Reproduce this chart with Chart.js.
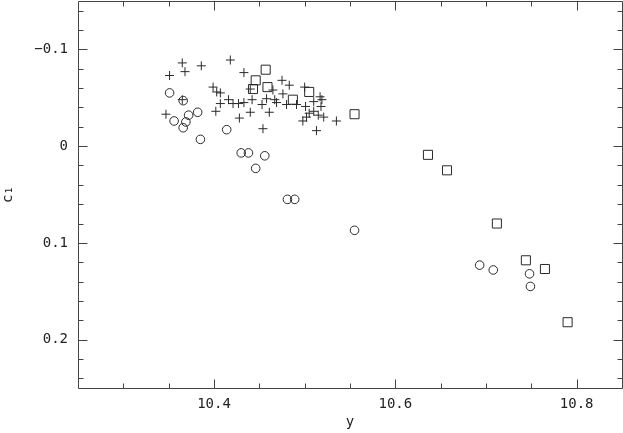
<!DOCTYPE html>
<html>
<head>
<meta charset="utf-8">
<script src="https://cdn.jsdelivr.net/npm/chart.js@4/dist/chart.umd.min.js"></script>
<style>
  html, body { margin: 0; padding: 0; background: #fff; }
  canvas { display: block; }
</style>
</head>
<body>
<canvas id="c1Chart" width="623" height="433"></canvas>
<script>
// crosses
var plusY = [10.365, 10.368, 10.351, 10.386, 10.418, 10.433, 10.399, 10.403, 10.407, 10.365,
             10.407, 10.416, 10.421, 10.427, 10.433, 10.442, 10.440, 10.402, 10.428, 10.440,
             10.347, 10.454, 10.453, 10.458, 10.465, 10.467, 10.469, 10.461, 10.475, 10.483,
             10.476, 10.480, 10.491, 10.500, 10.501, 10.510, 10.517, 10.519, 10.518, 10.505,
             10.510, 10.502, 10.498, 10.515, 10.521, 10.513, 10.535];
var plusC1 = [-0.086, -0.077, -0.073, -0.083, -0.089, -0.076, -0.061, -0.056, -0.055, -0.048,
              -0.044, -0.048, -0.044, -0.044, -0.045, -0.048, -0.059, -0.036, -0.029, -0.035,
              -0.033, -0.018, -0.043, -0.049, -0.058, -0.048, -0.045, -0.035, -0.068, -0.063,
              -0.054, -0.043, -0.043, -0.061, -0.041, -0.046, -0.051, -0.048, -0.041, -0.034,
              -0.036, -0.030, -0.026, -0.032, -0.030, -0.016, -0.026];

// circles
var circY = [10.351, 10.366, 10.372, 10.356, 10.369, 10.366, 10.382, 10.414, 10.385, 10.430,
             10.438, 10.456, 10.446, 10.481, 10.489, 10.555, 10.693, 10.708, 10.748, 10.749];
var circC1 = [-0.055, -0.047, -0.032, -0.026, -0.025, -0.019, -0.035, -0.017, -0.007, 0.007,
              0.007, 0.010, 0.023, 0.055, 0.055, 0.087, 0.123, 0.128, 0.132, 0.145];

// squares
var sqY = [10.457, 10.446, 10.459, 10.443, 10.487, 10.505, 10.555, 10.636, 10.657, 10.712,
           10.744, 10.765, 10.790];
var sqC1 = [-0.079, -0.068, -0.061, -0.059, -0.048, -0.056, -0.033, 0.009, 0.025, 0.080,
            0.118, 0.127, 0.182];

var xTicks = [10.4, 10.6, 10.8];
var xTickLabels = ['10.4', '10.6', '10.8'];
var c1Ticks = [-0.1, 0, 0.1, 0.2];
var c1TickLabels = ['\u22120.1', '0', '0.1', '0.2'];

function toPoints(xs, ys) {
    return xs.map(function (x, i) { return { x: x, y: ys[i] }; });
}

function isMajor(list, v) {
    return list.some(function (m) { return Math.abs(m - v) < 1e-6; });
}

// box round the plot with inward ticks on all four sides
var frameTicks = {
    id: 'frameTicks',
    afterDatasetsDraw: function (chart) {
        var ctx = chart.ctx, a = chart.chartArea;
        var xs = chart.scales.x, ys = chart.scales.y;
        var l = a.left + 0.5, r = a.right + 0.5, t = a.top + 0.5, b = a.bottom + 0.5;
        ctx.save();
        ctx.strokeStyle = '#444';
        ctx.lineWidth = 1;
        ctx.beginPath();
        ctx.rect(l, t, r - l, b - t);
        for (var i = 1; i < 12; i++) {
            var v = 10.25 + i * 0.05;
            var px = Math.round(xs.getPixelForValue(v)) + 0.5;
            var len = isMajor(xTicks, v) ? 9 : 5;
            ctx.moveTo(px, b); ctx.lineTo(px, b - len);
            ctx.moveTo(px, t); ctx.lineTo(px, t + len);
        }
        for (var j = 0; j < 20; j++) {
            var w = -0.14 + j * 0.02;
            var py = Math.round(ys.getPixelForValue(w)) + 0.5;
            var len2 = isMajor(c1Ticks, w) ? 9 : 5;
            ctx.moveTo(l, py); ctx.lineTo(l + len2, py);
            ctx.moveTo(r, py); ctx.lineTo(r - len2, py);
        }
        ctx.stroke();
        ctx.restore();
    }
};

var tickFont = { family: 'DejaVu Sans Mono', size: 14 };
var markColor = '#2a2a2a';

var ctxC = document.getElementById('c1Chart').getContext('2d');
var c1Chart = new Chart(ctxC, {
    type: 'scatter',
    data: {
        datasets: [{
            data: toPoints(plusY, plusC1),
            pointStyle: 'cross',
            pointRadius: 4.5,
            borderColor: markColor,
            backgroundColor: 'rgba(0,0,0,0)',
            borderWidth: 1
        }, {
            data: toPoints(circY, circC1),
            pointStyle: 'circle',
            pointRadius: 4.3,
            borderColor: markColor,
            backgroundColor: 'rgba(0,0,0,0)',
            borderWidth: 1
        }, {
            data: toPoints(sqY, sqC1),
            pointStyle: 'rect',
            pointRadius: 6.4,
            borderColor: markColor,
            backgroundColor: 'rgba(0,0,0,0)',
            borderWidth: 1
        }]
    },
    options: {
        responsive: false,
        animation: false,
        events: [],
        layout: { padding: { top: 1, right: 1, left: 0, bottom: 0 }, autoPadding: false },
        plugins: { legend: { display: false }, tooltip: { enabled: false } },
        scales: {
            x: {
                type: 'linear',
                min: 10.25,
                max: 10.85,
                grid: { display: false, drawTicks: false },
                border: { display: false },
                afterBuildTicks: function (s) { s.ticks = xTicks.map(function (v) { return { value: v }; }); },
                afterFit: function (s) { s.height = 45; s.paddingLeft = 0; s.paddingRight = 0; },
                ticks: {
                    padding: 8,
                    color: '#222',
                    font: tickFont,
                    maxRotation: 0,
                    callback: function (v) { return xTickLabels[xTicks.indexOf(v)]; }
                },
                title: {
                    display: true,
                    text: 'y',
                    color: '#222',
                    font: { family: 'DejaVu Sans Mono', size: 14 },
                    padding: { top: 0, bottom: 2 }
                }
            },
            y: {
                type: 'linear',
                reverse: true,
                min: -0.15,
                max: 0.25,
                grid: { display: false, drawTicks: false },
                border: { display: false },
                afterBuildTicks: function (s) { s.ticks = c1Ticks.map(function (v) { return { value: v }; }); },
                afterFit: function (s) { s.width = 78; s.paddingTop = 0; s.paddingBottom = 0; },
                ticks: {
                    padding: 10,
                    color: '#222',
                    font: tickFont,
                    callback: function (v) { return c1TickLabels[c1Ticks.indexOf(v)]; }
                },
                title: {
                    display: true,
                    text: 'c\u2081',
                    color: '#222',
                    font: { family: 'DejaVu Sans Mono', size: 14 },
                    padding: { top: 0, bottom: 0 }
                }
            }
        }
    },
    plugins: [frameTicks]
});
</script>
</body>
</html>
